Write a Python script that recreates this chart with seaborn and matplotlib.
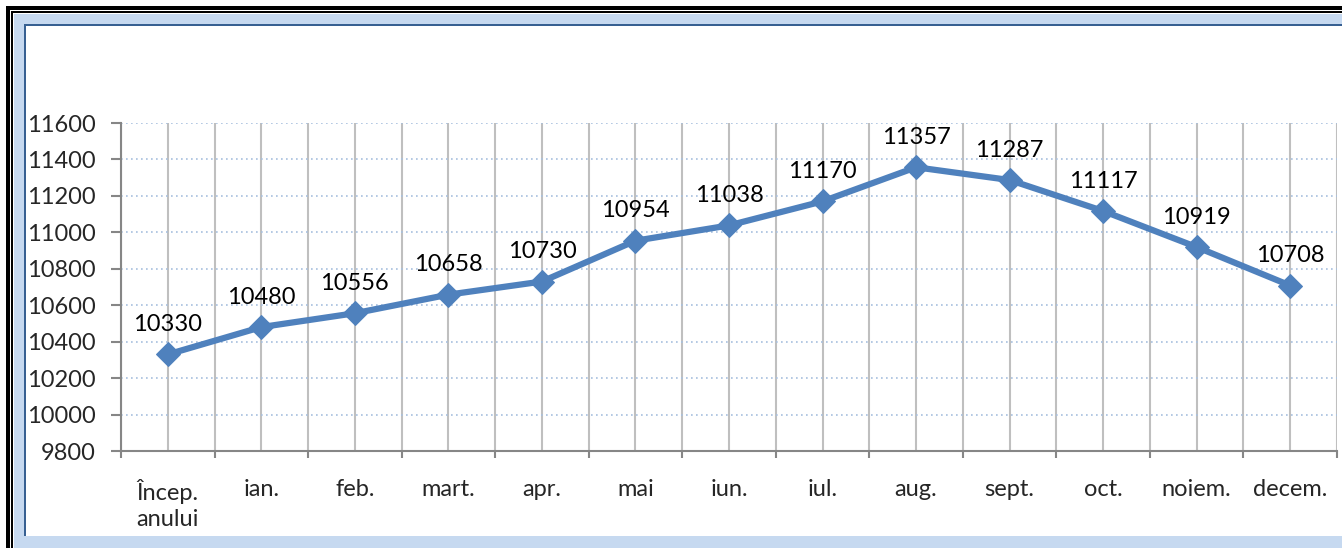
import numpy as np
import pandas as pd
import matplotlib
matplotlib.use("Agg")
import matplotlib.pyplot as plt
from matplotlib.patches import Rectangle
import seaborn as sns

# data
months = ["Încep.\nanului", "ian.", "feb.", "mart.", "apr.", "mai", "iun.",
          "iul.", "aug.", "sept.", "oct.", "noiem.", "decem."]
values = [10330, 10480, 10556, 10658, 10730, 10954, 11038,
          11170, 11357, 11287, 11117, 10919, 10708]

df = pd.DataFrame({"pos": np.arange(len(months)), "val": values})

sns.set_style("white")
plt.rcParams["font.family"] = ["Lato", "DejaVu Sans"]

W, H = 1342, 548
fig = plt.figure(figsize=(W / 100, H / 100), dpi=100)

# frame decoration (light blue frame + double black line top/left)
def fr(x, y, w, h, color):
    fig.patches.append(Rectangle((x / W, 1 - (y + h) / H), w / W, h / H,
                                 transform=fig.transFigure, color=color, lw=0, zorder=-5))

fr(0, 0, W, H, "white")
fr(14, 14, W - 14, H - 14, "#C6D9F0")
fr(24, 24, W - 24, 512, "#376092")
fr(26, 26, W - 26, 510, "white")
fr(6, 6, W - 6, 4, "black")
fr(6, 6, 4, H - 6, "black")
fr(11, 11, W - 11, 2, "black")
fr(11, 11, 2, H - 11, "black")

ax = fig.add_axes([121 / W, 1 - 451 / H, (1337 - 121) / W, (451 - 123) / H])
ax.set_facecolor("none")

sns.lineplot(data=df, x="pos", y="val", ax=ax, color="#4F81BD", lw=4.5,
             marker="D", markersize=12, markeredgecolor="#4F81BD", zorder=5)

for x, v in zip(df["pos"], df["val"]):
    ax.annotate(str(v), (x, v), xytext=(0, 14), textcoords="offset points",
                ha="center", va="bottom", fontsize=17, color="black")

n = len(months)
ax.set_xlim(-0.5, n - 0.5)
ax.set_ylim(9800, 11600)
ax.set_yticks(np.arange(9800, 11601, 200))
ax.set_xticks(np.arange(n))
ax.set_xticklabels(months, linespacing=1.3)
ax.set_xticks(np.arange(-0.5, n, 1), minor=True)

ax.grid(axis="y", which="major", color="#A7BFDE", ls=(0, (1, 2)), lw=1.2)
ax.grid(axis="x", which="both", color="#BFBFBF", lw=1.5)

for s in ["top", "right"]:
    ax.spines[s].set_visible(False)
for s in ["left", "bottom"]:
    ax.spines[s].set_color("#868686")
    ax.spines[s].set_linewidth(1.5)

ax.tick_params(axis="y", which="major", length=7, width=1.5, color="#868686",
               pad=11, labelsize=17, left=True)
ax.tick_params(axis="x", which="major", length=0, pad=20, labelsize=17)
ax.tick_params(axis="x", which="minor", length=5, width=1.5, color="#868686",
               bottom=True)
ax.set_xlabel("")
ax.set_ylabel("")

fig.savefig("out.png", dpi=100)
